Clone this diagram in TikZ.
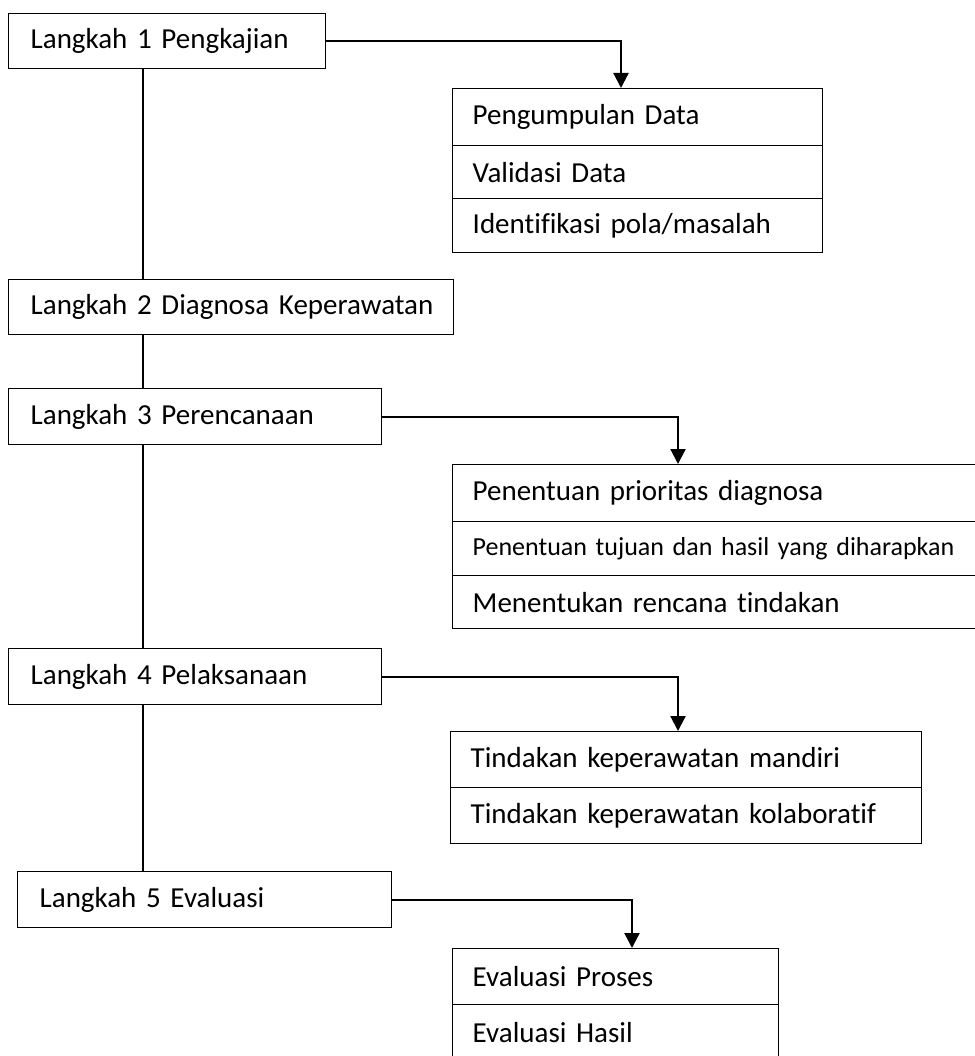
\documentclass[tikz,border=0pt]{standalone}
\usepackage{fontspec}
\setmainfont{Carlito}[Ligatures=NoCommon]
\usetikzlibrary{arrows.meta}

\tikzset{
  langkah/.style={draw, line width=1.4pt, anchor=north west, inner xsep=22pt, inner ysep=0pt,
    align=left, font=\fontsize{29}{34}\selectfont},
  rincian/.style={draw, line width=1.4pt, anchor=north west, inner xsep=20pt, inner ysep=0pt,
    align=left, font=\fontsize{29}{34}\selectfont},
  batang/.style={line width=1.4pt},
  panah/.style={line width=2.2pt, ->}
}

\begin{document}
\begin{tikzpicture}[>={Triangle[length=15pt,width=15pt]}, x=1pt, y=-1pt]

    \useasboundingbox (0,0) rectangle (974,1056);

    % The five steps on the left
    \node [langkah, text width=273pt, minimum height=55pt] (l1) at (8,13) {Langkah 1 Pengkajian};
    \node [langkah, text width=401pt, minimum height=55pt] (l2) at (8,279) {\mbox{Langkah 2 Diagnosa Keperawatan}};
    \node [langkah, text width=329pt, minimum height=56pt] (l3) at (8,388) {Langkah 3 Perencanaan};
    \node [langkah, text width=329pt, minimum height=56pt] (l4) at (8,648) {Langkah 4 Pelaksanaan};
    \node [langkah, text width=330pt, minimum height=56pt] (l5) at (17,871) {Langkah 5 Evaluasi};

    % Details of step 1
    \node [rincian, text width=330pt, minimum height=57pt] (p1) at (452,88) {Pengumpulan Data};
    \node [rincian, text width=330pt, minimum height=53pt] (p2) at (452,145) {Validasi Data};
    \node [rincian, text width=330pt, minimum height=54pt] (p3) at (452,198) {Identifikasi pola/masalah};

    % Details of step 3
    \node [rincian, text width=508pt, minimum height=57pt] (r1) at (452,464) {Penentuan prioritas diagnosa};
    \node [rincian, text width=508pt, minimum height=54pt, font=\fontsize{26}{30}\selectfont] (r2) at (452,521) {\mbox{Penentuan tujuan dan hasil yang diharapkan}};
    \node [rincian, text width=508pt, minimum height=53pt] (r3) at (452,575) {Menentukan rencana tindakan};

    % Details of step 4
    \node [rincian, text width=431pt, minimum height=56pt] (t1) at (450,731) {Tindakan keperawatan mandiri};
    \node [rincian, text width=431pt, minimum height=56pt] (t2) at (450,787) {Tindakan keperawatan kolaboratif};

    % Details of step 5
    \node [rincian, text width=286pt, minimum height=56pt] (e1) at (452,948) {Evaluasi Proses};
    \node [rincian, text width=286pt, minimum height=56pt] (e2) at (452,1004) {Evaluasi Hasil};

    % Trunk joining the steps
    \coordinate (trunk) at (143,0);
    \draw [batang] (l1.south -| trunk) -- (l2.north -| trunk);
    \draw [batang] (l2.south -| trunk) -- (l3.north -| trunk);
    \draw [batang] (l3.south -| trunk) -- (l4.north -| trunk);
    \draw [batang] (l4.south -| trunk) -- (l5.north -| trunk);

    % Arrows from each step down to its details
    \coordinate (a1) at (621,0);
    \coordinate (a3) at (678,0);
    \coordinate (a4) at (678,0);
    \coordinate (a5) at (632,0);
    \draw [panah] (l1.east) -| (p1.north -| a1);
    \draw [panah] (l3.east) -| (r1.north -| a3);
    \draw [panah] (l4.east) -| (t1.north -| a4);
    \draw [panah] (l5.east) -| (e1.north -| a5);

\end{tikzpicture}
\end{document}
